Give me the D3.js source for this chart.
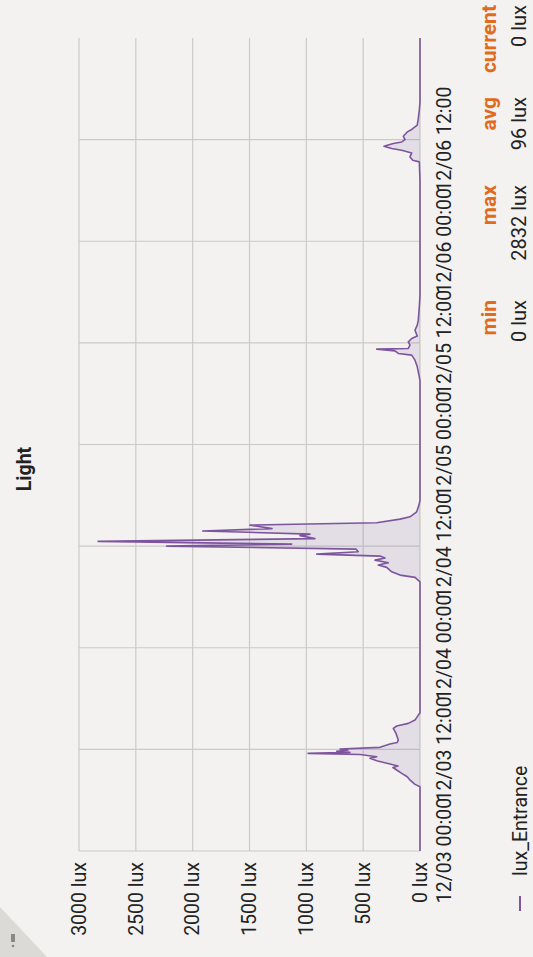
<!DOCTYPE html>
<html><head><meta charset="utf-8">
<script src="https://cdn.jsdelivr.net/npm/d3@7"></script>
<style>html,body{margin:0;padding:0;background:#f3f2f0;} svg{display:block}</style>
</head><body>
<svg id="c" width="533" height="957"></svg>
<script>
// ---------- data ----------
const chartTitle = "Light";
const seriesName = "lux_Entrance";
const startTime = "2023-12-03T00:00:00";
const endTime = "2023-12-07T00:00:00";
// hours since 12/03 00:00
const hours = [0,7.59,7.87,8.46,8.77,9.17,9.56,9.86,10.03,10.27,10.66,10.94,11.13,11.39,11.53,11.65,11.77,11.92,12.04,12.24,12.63,12.81,13.10,13.89,14.48,14.76,15.07,15.46,16.05,16.29,
  31.79,32.31,32.58,32.97,33.49,33.76,34.03,34.35,34.59,34.82,35.06,35.33,35.65,36.00,36.24,36.56,36.89,37.24,37.42,37.78,38.07,38.48,38.76,39.19,39.46,40.05,40.85,41.40,
  55.5,55.99,57.17,57.96,58.55,58.75,59.06,59.26,59.34,59.73,60.12,60.52,60.80,61.50,62.09,62.68,64.46,65.60,
  79.21,81.37,81.57,81.96,82.43,82.75,82.95,83.22,83.54,83.73,84.01,84.40,84.91,85.20,85.70,86.50,87.48,88.46,96];
const lux = [0,0,44,94,112,161,205,238,194,264,381,440,381,528,985,616,733,634,704,352,264,202,191,211,235,205,103,44,15,0,
  0,44,176,249,293,367,279,396,308,352,909,543,563,2229,1129,2832,924,1056,968,1912,1302,1496,381,176,88,29,9,0,
  0,6,24,44,73,191,220,381,103,88,103,73,24,44,24,15,5,0,
  0,6,64,88,73,161,249,317,235,161,132,147,112,73,24,15,6,0,0];
const yTicks = [0,500,1000,1500,2000,2500,3000];
const xTicks = ["2023-12-03T00:00:00","2023-12-03T12:00:00","2023-12-04T00:00:00","2023-12-04T12:00:00",
                "2023-12-05T00:00:00","2023-12-05T12:00:00","2023-12-06T00:00:00","2023-12-06T12:00:00"];
const statNames = ["min","max","avg","current"];
const statValues = ["0 lux","2832 lux","96 lux","0 lux"];

// ---------- layout (unrotated chart 957 x 533, then rotated -90deg) ----------
const W = 957, H = 533;
const M = {left:106, right:919, top:79, bottom:420};
const FONT = "Roboto, 'Noto Sans', sans-serif";

const svg = d3.select("#c");
svg.append("rect").attr("width",533).attr("height",957).attr("fill","#f3f2f0");
const g = svg.append("g").attr("transform",`translate(0,${957}) rotate(-90)`);

const t0 = new Date(startTime);
const data = hours.map((h,i)=>({t:new Date(t0.getTime()+h*3600e3), v:lux[i]}));

const x = d3.scaleTime().domain([new Date(startTime), new Date(endTime)]).range([M.left, M.right]);
const y = d3.scaleLinear().domain([0,3000]).range([M.bottom, M.top]);

// grid
const xt = xTicks.map(s=>new Date(s));
g.append("g").selectAll("line").data(xt).join("line")
  .attr("x1",d=>x(d)).attr("x2",d=>x(d)).attr("y1",y(3000)).attr("y2",y(0))
  .attr("stroke","#cbcac7").attr("stroke-width",1.2);
g.append("g").selectAll("line").data(yTicks).join("line")
  .attr("x1",M.left).attr("x2",M.right).attr("y1",d=>y(d)).attr("y2",d=>y(d))
  .attr("stroke","#cbcac7").attr("stroke-width",1.2);

// y axis labels
const yAxis = d3.axisLeft(y).tickValues(yTicks).tickSize(0).tickPadding(11).tickFormat(d=>d+" lux");
const ya = g.append("g").attr("transform",`translate(${M.left},0)`).call(yAxis);
ya.select(".domain").remove();
ya.selectAll("text").attr("font-family",FONT).attr("font-size",19.5).attr("fill","#222");

// x axis labels
const xAxis = d3.axisBottom(x).tickValues(xt).tickSize(0).tickPadding(17).tickFormat(d3.timeFormat("%m/%d %H:%M"));
const xa = g.append("g").attr("transform",`translate(0,${M.bottom})`).call(xAxis);
xa.select(".domain").remove();
xa.selectAll("text").attr("font-family",FONT).attr("font-size",19.5).attr("fill","#222");

// area + line
const area = d3.area().x(d=>x(d.t)).y0(y(0)).y1(d=>y(d.v));
const line = d3.line().x(d=>x(d.t)).y(d=>y(d.v));
g.append("path").datum(data).attr("d",area).attr("fill","rgba(125,85,160,0.13)");
g.append("path").datum(data).attr("d",line).attr("fill","none").attr("stroke","#7d559e").attr("stroke-width",1.6).attr("stroke-linejoin","round");

// title
g.append("text").attr("x",488).attr("y",31).attr("text-anchor","middle")
  .attr("font-family",FONT).attr("font-weight","bold").attr("font-size",19.5).attr("fill","#222").text(chartTitle);

// legend
g.append("line").attr("x1",46).attr("x2",61).attr("y1",520).attr("y2",520).attr("stroke","#7d559e").attr("stroke-width",2);
g.append("text").attr("x",81).attr("y",527).attr("font-family",FONT).attr("font-size",19.5).attr("fill","#222").text(seriesName);

// stats
const statX = [657,772,860,952];
g.append("g").selectAll("text").data(statNames).join("text")
  .attr("x",(d,i)=>statX[i]).attr("y",496).attr("text-anchor","end")
  .attr("font-family",FONT).attr("font-weight","bold").attr("font-size",21).attr("fill","#e06b1c").text(d=>d);
g.append("g").selectAll("text").data(statValues).join("text")
  .attr("x",(d,i)=>statX[i]).attr("y",526).attr("text-anchor","end")
  .attr("font-family",FONT).attr("font-size",20).attr("fill","#222").text(d=>d);

// info corner
g.append("path").attr("d","M0,0L50,0L0,47Z").attr("fill","#dcdad6");
g.append("rect").attr("x",15).attr("y",11).attr("width",8).attr("height",4).attr("fill","#8a8884");
g.append("circle").attr("cx",11).attr("cy",13).attr("r",1.3).attr("fill","#8a8884");
</script>
</body></html>
